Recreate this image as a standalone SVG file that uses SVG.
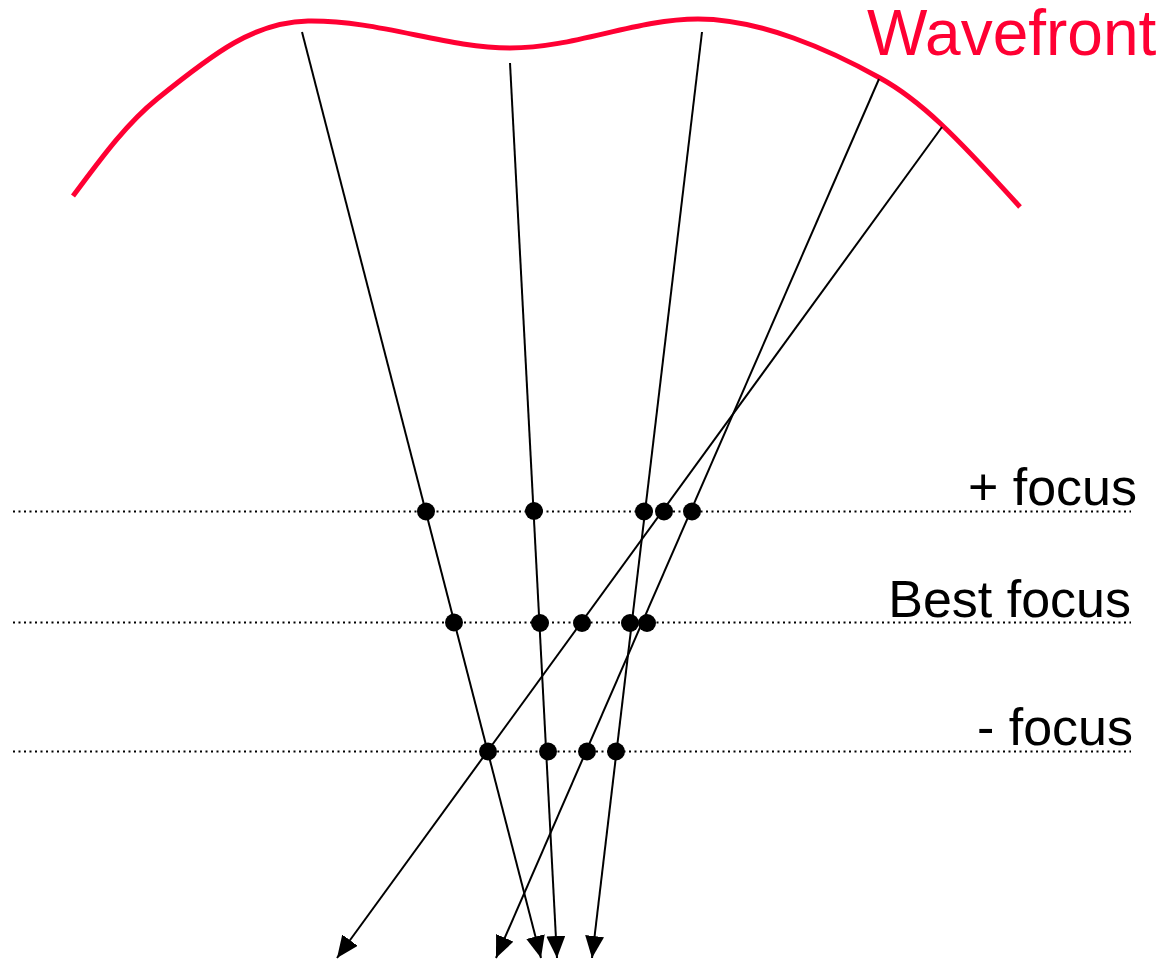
<svg xmlns="http://www.w3.org/2000/svg" width="1167" height="959" viewBox="0 0 1167 959">
  <style>
    .ray { stroke: #000; stroke-width: 2; fill: none; }
    .plane { stroke: #000; stroke-width: 2; stroke-dasharray: 2 3.5; fill: none; }
    .dot { fill: #000; }
    .lbl { font-family: "Liberation Sans", Arial, sans-serif; font-size: 52px; fill: #000; text-anchor: end; }
    .wf { stroke: #FF0033; stroke-width: 5; fill: none; }
    .wflbl { font-family: "Liberation Sans", Arial, sans-serif; font-size: 64px; fill: #FF0033; }
  </style>
  <defs>
    <marker id="arrow" markerUnits="userSpaceOnUse" markerWidth="24" markerHeight="20" refX="22" refY="9.5" orient="auto">
      <path d="M0,0 L22,9.5 L0,19 z" fill="#000"/>
    </marker>
  </defs>
  <rect width="1167" height="959" fill="#fff"/>

  <g id="wavefront">
    <path class="wf" d="M73,196 C100,160 125,125 157,99 C215,52 255,22 308,21 C380,20 445,48 510,48 C575,48 635,19 698,19 C760,19 830,50 880,78 C920,100 955,135 1020,207"/>
    <text class="wflbl" x="867" y="55">Wavefront</text>
  </g>

  <g id="plus-focus">
    <line class="plane" x1="13" y1="511.5" x2="1131" y2="511.5"/>
    <text class="lbl" x="1137" y="505">+ focus</text>
  </g>
  <g id="best-focus">
    <line class="plane" x1="13" y1="622.5" x2="1131" y2="622.5"/>
    <text class="lbl" x="1131" y="617">Best focus</text>
  </g>
  <g id="minus-focus">
    <line class="plane" x1="13" y1="751.5" x2="1131" y2="751.5"/>
    <text class="lbl" x="1133" y="745">- focus</text>
  </g>

  <g id="connectors">
    <line class="ray" x1="302" y1="32" x2="541" y2="958" marker-end="url(#arrow)"/>
    <line class="ray" x1="510" y1="63" x2="557" y2="958" marker-end="url(#arrow)"/>
    <line class="ray" x1="702" y1="32" x2="592" y2="958" marker-end="url(#arrow)"/>
    <line class="ray" x1="879" y1="79" x2="496" y2="958" marker-end="url(#arrow)"/>
    <line class="ray" x1="942" y1="127" x2="337" y2="958" marker-end="url(#arrow)"/>
  </g>

  <g id="dots-plus">
    <circle class="dot" cx="426" cy="511.5" r="9"/>
    <circle class="dot" cx="534" cy="511" r="9"/>
    <circle class="dot" cx="644" cy="511.5" r="9"/>
    <circle class="dot" cx="664" cy="511.5" r="9"/>
    <circle class="dot" cx="692" cy="511.5" r="9"/>
  </g>
  <g id="dots-best">
    <circle class="dot" cx="454" cy="622.5" r="9"/>
    <circle class="dot" cx="540" cy="623" r="9"/>
    <circle class="dot" cx="582" cy="623" r="9"/>
    <circle class="dot" cx="630" cy="623" r="9"/>
    <circle class="dot" cx="647" cy="623" r="9"/>
  </g>
  <g id="dots-minus">
    <circle class="dot" cx="488" cy="751.5" r="9"/>
    <circle class="dot" cx="548" cy="751.5" r="9"/>
    <circle class="dot" cx="587" cy="751.5" r="9"/>
    <circle class="dot" cx="616" cy="751.5" r="9"/>
  </g>
</svg>
